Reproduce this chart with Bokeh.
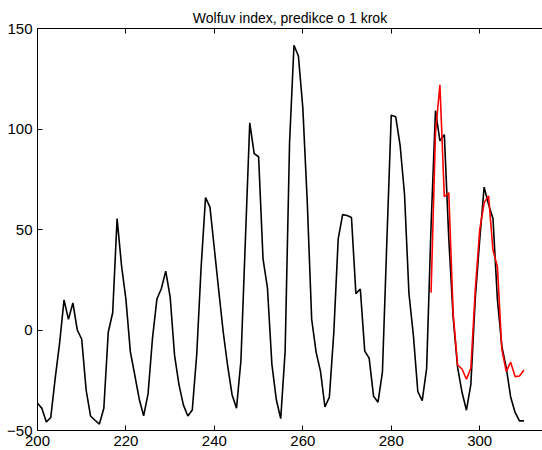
from bokeh.plotting import figure
from bokeh.models import Range1d, FixedTicker, LinearAxis
from bokeh.embed import file_html
from bokeh.resources import INLINE

# Wolf index (centred), samples 200..310
x_wolf = list(range(200, 311))
wolf = [-36.4, -39.0, -45.8, -43.5, -24.1, -6.5, 15.0, 5.3, 13.5, 0.0,
        -4.6, -29.9, -42.8, -44.9, -46.8, -38.9, -1.1, 8.6, 55.4, 32.1,
        15.1, -10.9, -22.4, -34.3, -42.7, -31.8, -4.2, 15.4, 20.5, 29.3,
        16.4, -12.8, -27.3, -37.4, -42.8, -39.8, -12.4, 31.2, 65.9, 61.1,
        40.3, 19.3, -1.0, -17.9, -32.2, -38.9, -15.3, 44.1, 103.1, 87.8,
        86.2, 35.4, 20.9, -17.0, -34.6, -44.1, -10.5, 93.2, 141.7, 136.3,
        110.5, 63.8, 5.4, -11.0, -20.6, -38.3, -33.4, -1.5, 45.3, 57.4,
        57.0, 56.0, 18.1, 20.4, -10.5, -14.0, -33.0, -35.9, -21.0, 44.0,
        106.9, 106.1, 91.9, 67.4, 18.1, -2.6, -30.6, -35.1, -19.1, 51.7,
        109.1, 94.1, 97.2, 45.8, 6.1, -18.6, -31.0, -39.9, -27.0, 15.8,
        44.8, 71.1, 62.5, 55.5, 15.2, -8.1, -18.7, -33.3, -41.0, -45.2,
        -45.2]

# one-step prediction, samples 289..310
x_pred = list(range(289, 311))
pred = [18.6, 98.0, 122.0, 66.3, 68.3, 8.0, -17.4, -19.4, -24.5, -19.0,
        20.0, 49.8, 63.3, 66.7, 39.8, 31.5, -9.5, -20.7, -16.0, -23.2,
        -22.9, -19.9]

x_ticks = [200, 220, 240, 260, 280, 300]
y_ticks = [-50, 0, 50, 100, 150]

FONT = "Liberation Sans"

p = figure(width=542, height=450, output_backend="svg", toolbar_location=None,
           x_range=Range1d(200, 314.2), y_range=Range1d(-50, 150),
           min_border_left=37, min_border_right=0, min_border_top=28,
           min_border_bottom=20, title="Wolfuv index, predikce o 1 krok")

p.title.align = "center"
p.title.text_font = FONT
p.title.text_font_size = "14px"
p.title.text_font_style = "normal"
p.title.text_color = "black"
p.title.standoff = 5

p.grid.visible = False
p.outline_line_color = None
p.background_fill_color = "white"
p.border_fill_color = "white"

for ax in (p.xaxis[0], p.yaxis[0]):
    ax.axis_line_color = "black"
    ax.axis_line_width = 1
    ax.major_tick_in = 5
    ax.major_tick_out = 0
    ax.minor_tick_line_color = None
    ax.major_tick_line_color = "black"
    ax.major_label_text_font = FONT
    ax.major_label_text_font_size = "15px"
    ax.major_label_text_color = "black"

p.xaxis[0].ticker = FixedTicker(ticks=x_ticks)
p.yaxis[0].ticker = FixedTicker(ticks=y_ticks)
p.xaxis[0].major_label_standoff = 5
p.yaxis[0].major_label_standoff = 5

top = LinearAxis(ticker=FixedTicker(ticks=x_ticks), major_tick_in=5, major_tick_out=0,
                 minor_tick_line_color=None, major_label_standoff=0,
                 axis_line_color="black",
                 major_label_overrides={t: "" for t in x_ticks})
p.add_layout(top, "above")

p.line(x_wolf, wolf, line_color="black", line_width=1.6)
p.line(x_pred, pred, line_color="#ff0000", line_width=1.6)

open("out.html", "w").write(file_html(p, INLINE))
